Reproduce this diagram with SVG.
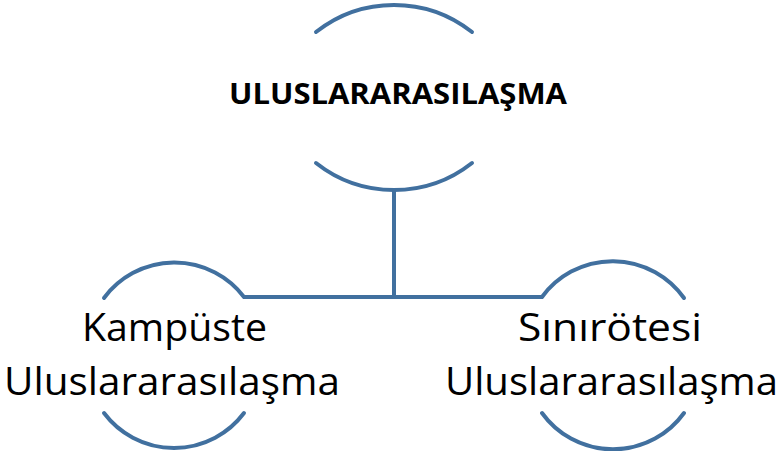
<svg xmlns="http://www.w3.org/2000/svg" width="784" height="451" viewBox="0 0 784 451">
<style>
.arc{fill:none;stroke:#41709F;stroke-width:4;stroke-linecap:round}
.conn{fill:none;stroke:#41709F;stroke-width:4}
.t{font-family:"Open Sans","Liberation Sans",sans-serif;fill:#000}
.title{font-size:29px;font-weight:bold}
.lbl{font-size:38px}
</style>
<rect width="784" height="451" fill="#fff"/>
<g id="connectors">
<path class="conn" d="M394,190 V297 M243,297 H543"/>
</g>
<g id="node-top">
<path class="arc" d="M316,32 A126,126 0 0 1 472,32"/>
<path class="arc" d="M316,163 A126,126 0 0 0 472,163"/>
<text class="t title" x="229" y="104" textLength="338" lengthAdjust="spacingAndGlyphs">ULUSLARARASILAŞMA</text>
</g>
<g id="node-left">
<path class="arc" d="M104,298 A87.5,87.5 0 0 1 244,297"/>
<path class="arc" d="M104,413 A87.5,87.5 0 0 0 244,413"/>
<text class="t lbl" x="82" y="341" textLength="185" lengthAdjust="spacingAndGlyphs">Kampüste</text>
<text class="t lbl" x="4" y="395" textLength="336" lengthAdjust="spacingAndGlyphs">Uluslararasılaşma</text>
</g>
<g id="node-right">
<path class="arc" d="M542,297 A87.5,87.5 0 0 1 684,298"/>
<path class="arc" d="M542,413 A87.5,87.5 0 0 0 684,413"/>
<text class="t lbl" x="518" y="341" textLength="184" lengthAdjust="spacingAndGlyphs">Sınırötesi</text>
<text class="t lbl" x="445" y="395" textLength="333" lengthAdjust="spacingAndGlyphs">Uluslararasılaşma</text>
</g>
</svg>
